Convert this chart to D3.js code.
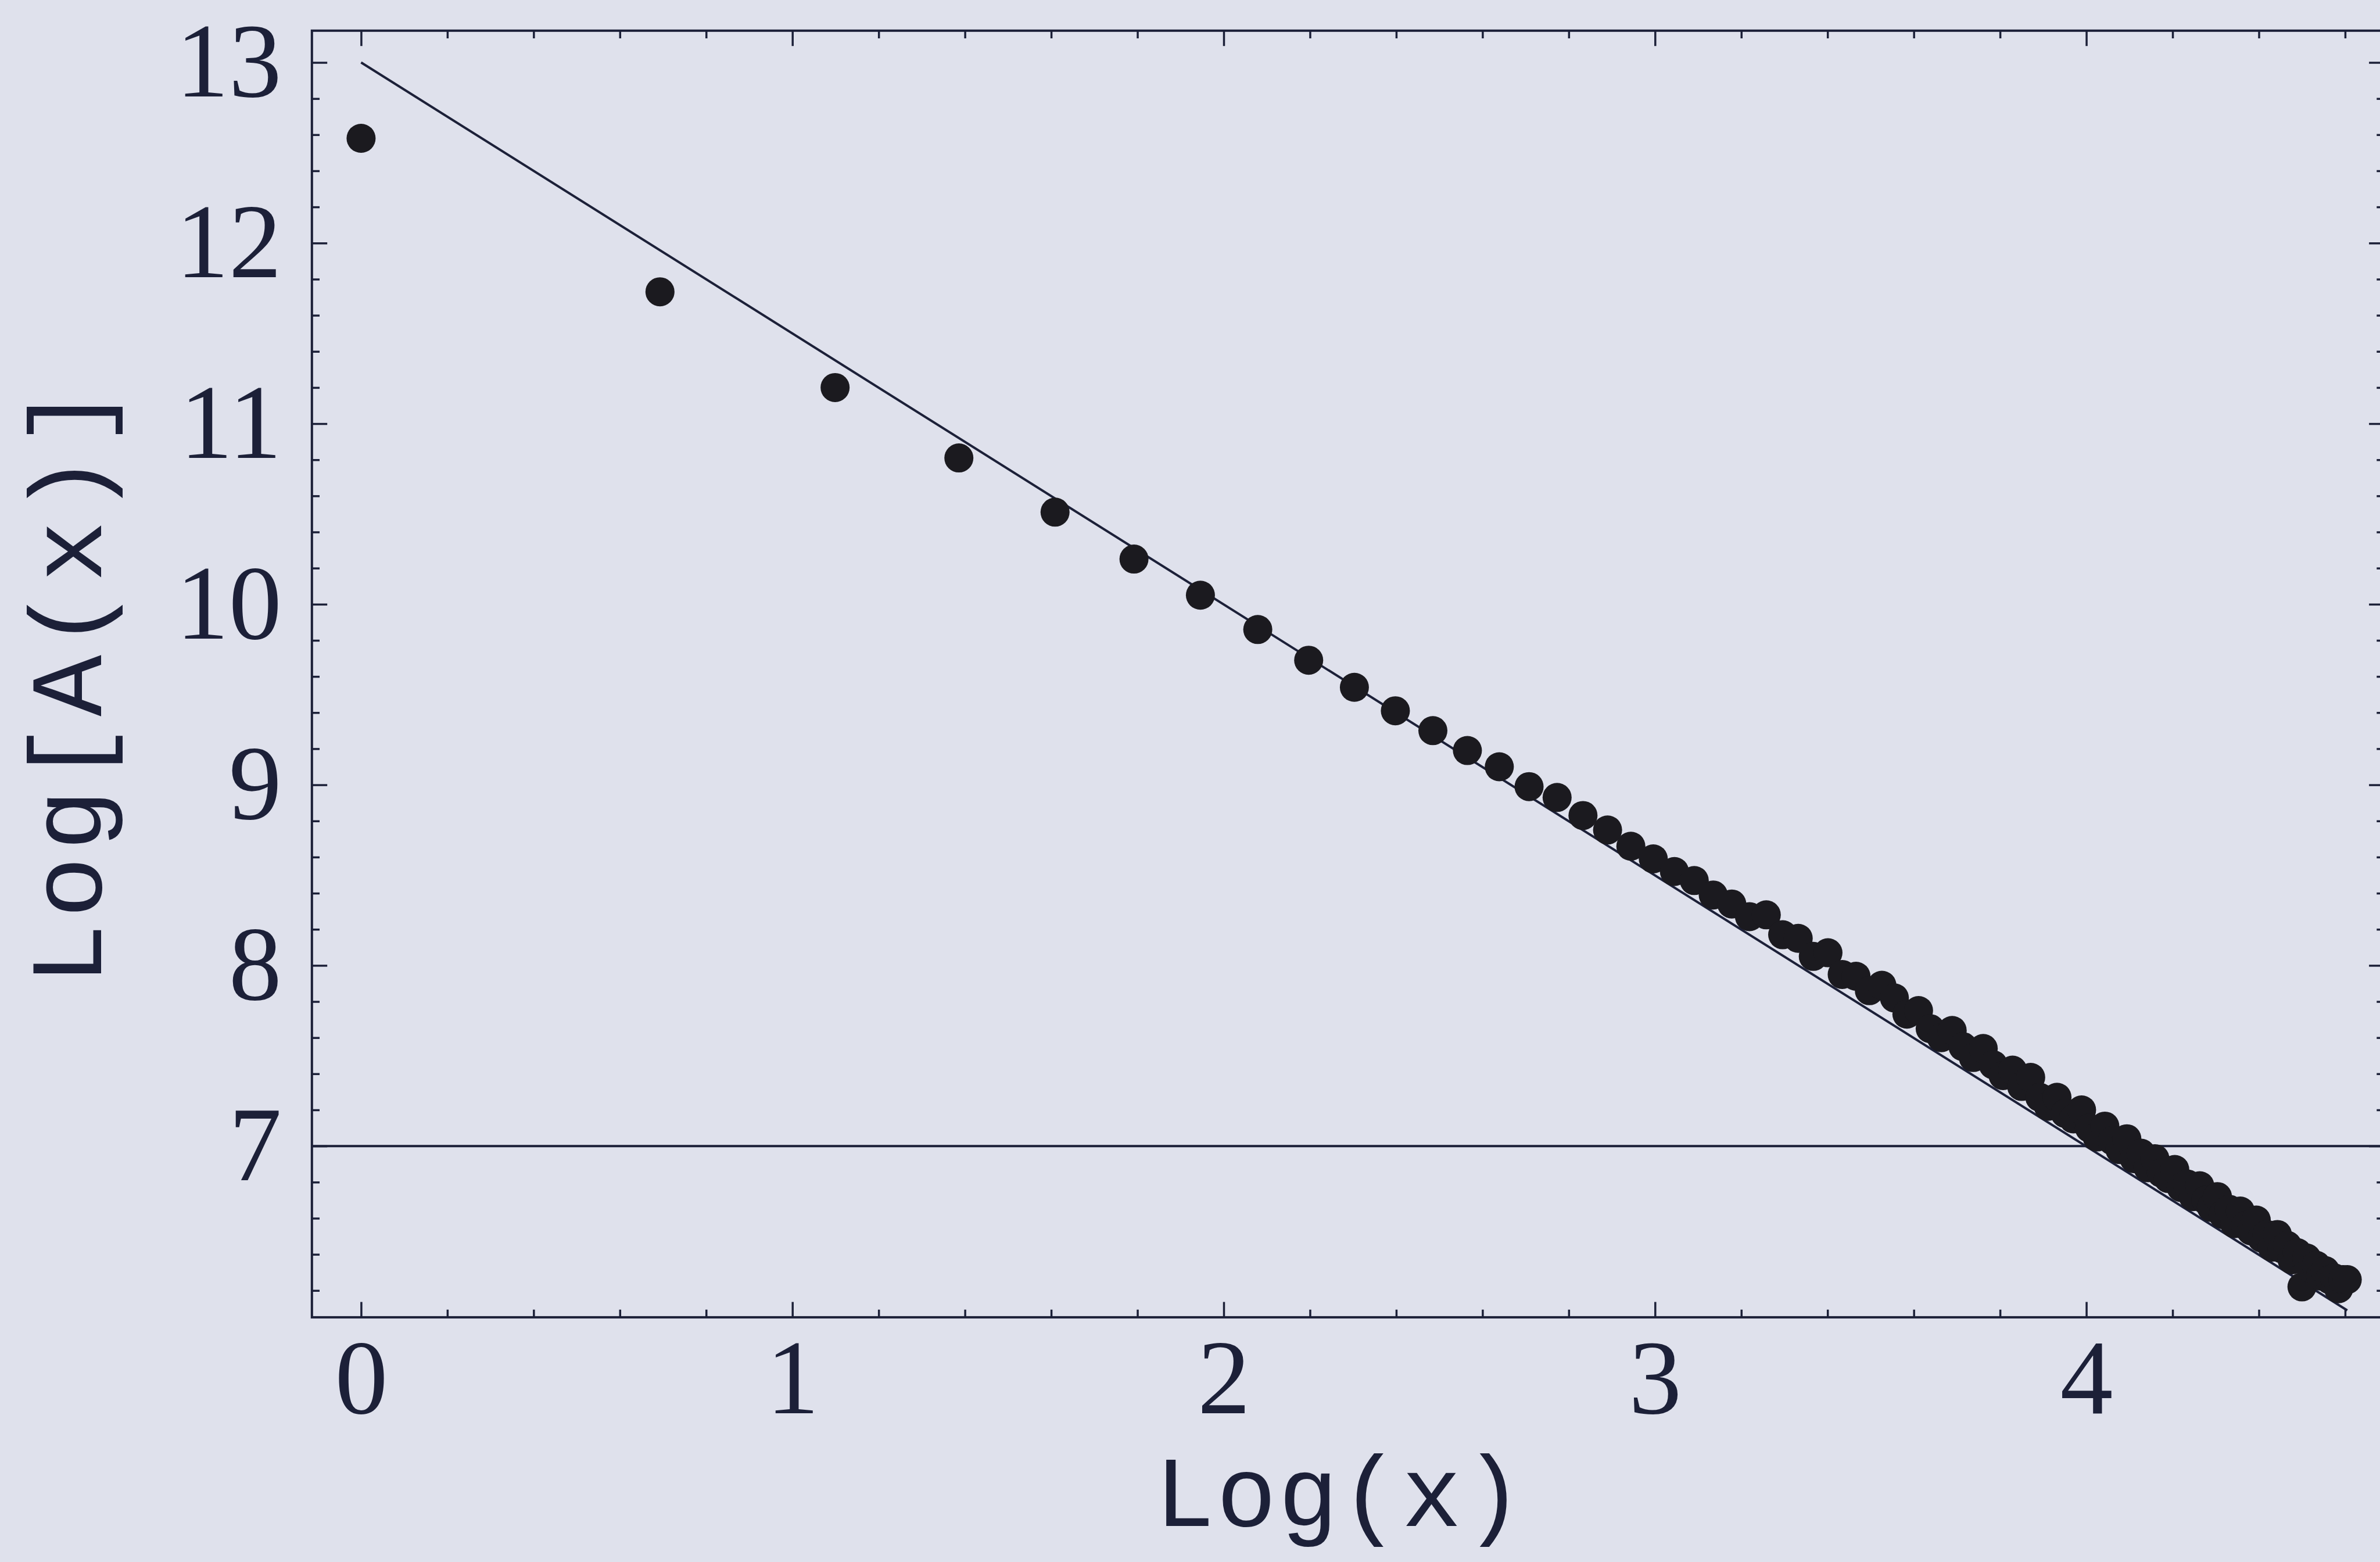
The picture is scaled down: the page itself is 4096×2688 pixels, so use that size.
<!DOCTYPE html>
<html>
<head>
<meta charset="utf-8">
<script src="https://cdn.jsdelivr.net/npm/d3@7"></script>
<style>
  html, body { margin: 0; padding: 0; background: #dfe1ec; overflow: hidden; }
  svg { display: block; }
  text { font-family: "Liberation Mono", "Courier New", monospace; fill: #1c2038; }
</style>
</head>
<body>
<svg id="chart" width="4096" height="2688"></svg>
<script>
// Log(x) for x = 1 .. 100
const logX = [
  0.000, 0.693, 1.099, 1.386, 1.609, 1.792, 1.946, 2.079, 2.197, 2.303,
  2.398, 2.485, 2.565, 2.639, 2.708, 2.773, 2.833, 2.890, 2.944, 2.996,
  3.045, 3.091, 3.135, 3.178, 3.219, 3.258, 3.296, 3.332, 3.367, 3.401,
  3.434, 3.466, 3.497, 3.526, 3.555, 3.584, 3.611, 3.638, 3.664, 3.689,
  3.714, 3.738, 3.761, 3.784, 3.807, 3.829, 3.850, 3.871, 3.892, 3.912,
  3.932, 3.951, 3.970, 3.989, 4.007, 4.025, 4.043, 4.060, 4.078, 4.094,
  4.111, 4.127, 4.143, 4.159, 4.174, 4.190, 4.205, 4.220, 4.234, 4.248,
  4.263, 4.277, 4.290, 4.304, 4.317, 4.331, 4.344, 4.357, 4.369, 4.382,
  4.394, 4.407, 4.419, 4.431, 4.443, 4.454, 4.466, 4.477, 4.489, 4.500,
  4.511, 4.522, 4.533, 4.543, 4.554, 4.564, 4.575, 4.585, 4.595, 4.605
];

// Log[A(x)]
const logA = [
  12.58, 11.73, 11.20, 10.81, 10.51, 10.25, 10.05, 9.86, 9.69, 9.54,
  9.41, 9.30, 9.19, 9.10, 8.99, 8.93, 8.83, 8.75, 8.66, 8.59,
  8.52, 8.47, 8.39, 8.34, 8.27, 8.28, 8.17, 8.15, 8.05, 8.07,
  7.95, 7.94, 7.86, 7.89, 7.82, 7.73, 7.75, 7.65, 7.60, 7.64,
  7.55, 7.49, 7.54, 7.45, 7.39, 7.42, 7.33, 7.38, 7.27, 7.22,
  7.27, 7.18, 7.15, 7.20, 7.10, 7.05, 7.11, 7.03, 6.98, 7.04,
  6.93, 6.96, 6.88, 6.93, 6.85, 6.82, 6.87, 6.77, 6.79, 6.72,
  6.78, 6.70, 6.66, 6.72, 6.62, 6.65, 6.57, 6.64, 6.56, 6.53,
  6.59, 6.49, 6.51, 6.44, 6.51, 6.43, 6.45, 6.37, 6.41, 6.22,
  6.38, 6.32, 6.34, 6.28, 6.31, 6.26, 6.27, 6.21, 6.26, 6.26
];

// fitted straight line and the reference level
const fitX = [0, 4.605];
const fitY = [13, 6.09];
const levelY = 7;

const xMajor = [0, 1, 2, 3, 4];
const xMinor = [0.2, 0.4, 0.6, 0.8, 1.2, 1.4, 1.6, 1.8, 2.2, 2.4, 2.6, 2.8, 3.2, 3.4, 3.6, 3.8, 4.2, 4.4, 4.6];
const yMajor = [7, 8, 9, 10, 11, 12, 13];
const yMinor = [6.2, 6.4, 6.6, 6.8, 7.2, 7.4, 7.6, 7.8, 8.2, 8.4, 8.6, 8.8, 9.2, 9.4, 9.6, 9.8,
  10.2, 10.4, 10.6, 10.8, 11.2, 11.4, 11.6, 11.8, 12.2, 12.4, 12.6, 12.8];

const svg = d3.select('#chart');
const ink = '#1c2038';

const frameL = 536.8, frameR = 4103.5, frameT = 52.8, frameB = 2266.9;

const xScale = d3.scaleLinear().domain([-0.114, 4.691]).range([frameL, frameR]);
const yScale = d3.scaleLinear().domain([6.0515, 13.176]).range([frameB, frameT]);

const styleAxis = g => {
    g.select('.domain').remove();
    g.selectAll('.tick line').attr('stroke', ink).attr('stroke-width', 3.5);
    g.selectAll('.tick text')
        .attr('fill', ink)
        .style('font-family', '"Liberation Serif", "Times New Roman", serif')
        .style('font-size', '182px');
};

const major = 26.4, minor = 13.2;

// bottom
svg.append('g').attr('transform', 'translate(0,' + frameB + ')')
    .call(d3.axisBottom(xScale).tickValues(xMajor).tickSize(-major).tickPadding(36).tickFormat(d3.format('d')))
    .call(styleAxis);
svg.append('g').attr('transform', 'translate(0,' + frameB + ')')
    .call(d3.axisBottom(xScale).tickValues(xMinor).tickSize(-minor).tickFormat(''))
    .call(styleAxis);
// top
svg.append('g').attr('transform', 'translate(0,' + frameT + ')')
    .call(d3.axisTop(xScale).tickValues(xMajor).tickSize(-major).tickFormat(''))
    .call(styleAxis);
svg.append('g').attr('transform', 'translate(0,' + frameT + ')')
    .call(d3.axisTop(xScale).tickValues(xMinor).tickSize(-minor).tickFormat(''))
    .call(styleAxis);
// left
svg.append('g').attr('transform', 'translate(' + frameL + ',0)')
    .call(d3.axisLeft(yScale).tickValues(yMajor).tickSize(-major).tickPadding(52).tickFormat(d3.format('d')))
    .call(styleAxis);
svg.append('g').attr('transform', 'translate(' + frameL + ',0)')
    .call(d3.axisLeft(yScale).tickValues(yMinor).tickSize(-minor).tickFormat(''))
    .call(styleAxis);
// right
svg.append('g').attr('transform', 'translate(' + frameR + ',0)')
    .call(d3.axisRight(yScale).tickValues(yMajor).tickSize(-major).tickFormat(''))
    .call(styleAxis);
svg.append('g').attr('transform', 'translate(' + frameR + ',0)')
    .call(d3.axisRight(yScale).tickValues(yMinor).tickSize(-minor).tickFormat(''))
    .call(styleAxis);

// frame
svg.append('rect')
    .attr('x', frameL).attr('y', frameT)
    .attr('width', frameR - frameL).attr('height', frameB - frameT)
    .attr('fill', 'none').attr('stroke', ink).attr('stroke-width', 4);

// level line
svg.append('line')
    .attr('x1', frameL).attr('x2', frameR)
    .attr('y1', yScale(levelY)).attr('y2', yScale(levelY))
    .attr('stroke', ink).attr('stroke-width', 4);

// fitted line
const fit = fitX.map((d, i) => [d, fitY[i]]);
svg.append('path')
    .datum(fit)
    .attr('d', d3.line().x(d => xScale(d[0])).y(d => yScale(d[1])))
    .attr('fill', 'none').attr('stroke', ink).attr('stroke-width', 4);

// data points
const points = logX.map((d, i) => ({x: d, y: logA[i]}));
svg.append('g').selectAll('circle')
    .data(points)
    .enter()
    .append('circle')
    .attr('cx', d => xScale(d.x))
    .attr('cy', d => yScale(d.y))
    .attr('r', 25)
    .attr('fill', '#1b1a1f');

// axis titles
svg.append('text')
    .attr('x', 2306).attr('y', 2626)
    .attr('text-anchor', 'middle')
    .style('font-size', '172px')
    .style('letter-spacing', '3px')
    .text('Log(x)');

svg.append('text')
    .attr('transform', 'translate(174,1175) rotate(-90)')
    .attr('text-anchor', 'middle')
    .style('font-size', '176px')
    .style('letter-spacing', '10px')
    .text('Log[A(x)]');
</script>
</body>
</html>
